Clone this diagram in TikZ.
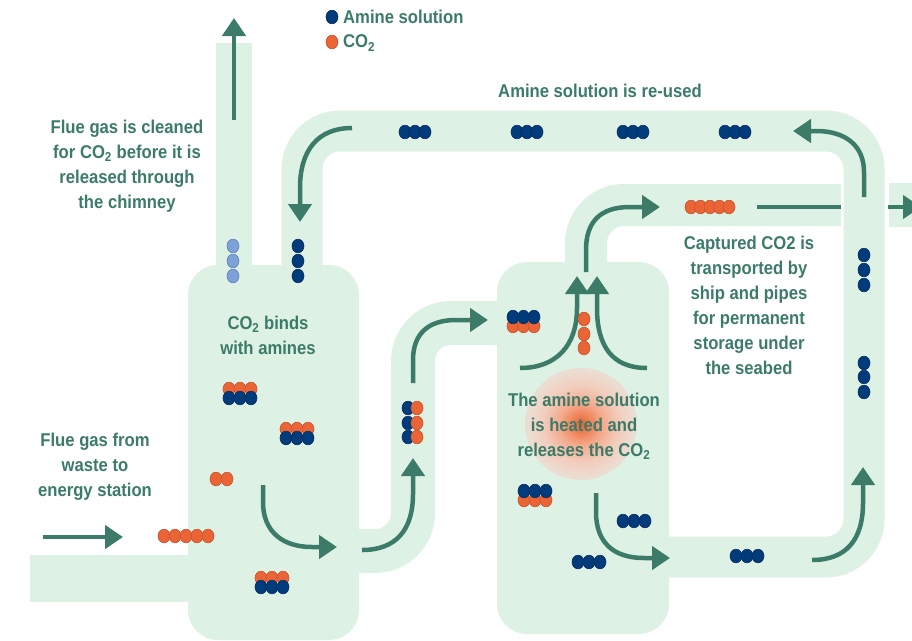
\documentclass[tikz,border=0pt]{standalone}
\usepackage{fontspec}
\setmainfont{Liberation Sans}[FakeStretch=0.9]
\usetikzlibrary{arrows.meta}
\definecolor{pipefill}{HTML}{DEF1E5}
\definecolor{grn}{HTML}{3B7B68}
\definecolor{amb}{HTML}{003B7C}
\definecolor{ambd}{HTML}{0A2D5E}
\definecolor{coo}{HTML}{EB6436}
\definecolor{cood}{HTML}{C5522B}
\definecolor{lbl}{HTML}{7EA1D8}
\definecolor{lbld}{HTML}{5B7FBA}
\definecolor{glowA}{HTML}{EE5F2E}
\definecolor{glowB}{HTML}{F07D52}
\definecolor{glowC}{HTML}{F3AA8C}
\definecolor{glowD}{HTML}{F2CDBD}
\definecolor{glowE}{HTML}{ECDDD3}
\pgfdeclareradialshading{heatglow}{\pgfpoint{0bp}{0bp}}{color(0bp)=(glowA); color(3.5bp)=(glowB); color(9.5bp)=(glowC); color(17bp)=(glowD); color(24bp)=(glowE); color(25bp)=(glowE); color(50bp)=(glowE)}
\tikzset{
  pipeline/.style={draw=pipefill, line cap=butt},
  amdot/.style={fill=amb, draw=ambd, line width=0.6pt},
  codot/.style={fill=coo, draw=cood, line width=0.6pt},
  lbdot/.style={fill=lbl, draw=lbld, line width=0.6pt},
  arr/.style={draw=grn, line width=4.5pt, -{Triangle[length=18pt,width=23pt]}},
  txt/.style={text=grn, font=\fontsize{18.5}{25}\selectfont\bfseries, align=center, inner sep=0pt},
}
\newcommand\amd[2]{\filldraw[amdot] (#1,#2) ellipse [x radius=6, y radius=6.8];}
\newcommand\cod[2]{\filldraw[codot] (#1,#2) ellipse [x radius=6, y radius=6.8];}
\newcommand\lbd[2]{\filldraw[lbdot] (#1,#2) ellipse [x radius=6, y radius=6.8];}
\begin{document}
\begin{tikzpicture}[x=1pt,y=-1pt]
\useasboundingbox (0,0) rectangle (912,640);
% ---------- pipes ----------
\draw[pipeline, line width=36pt] (234,43) -- (234,280);
\draw[pipeline, line width=47pt] (30,578.5) -- (200,578.5);
\draw[pipeline, line width=41pt, rounded corners=38pt] (302,280) -- (302,131) -- (864,131) -- (864,557) -- (650,557);
\draw[pipeline, line width=42pt, rounded corners=38pt] (586,280) -- (586,205) -- (841,205);
\draw[pipeline, line width=44pt] (889,205) -- (916,205);
\draw[pipeline, line width=44pt, rounded corners=38pt] (350,551) -- (413,551) -- (413,323) -- (505,323);
% ---------- columns ----------
\fill[pipefill, rounded corners=30pt] (188,265) rectangle (359,640);
\fill[pipefill, rounded corners=30pt] (497,262) rectangle (669,634);
% ---------- heat ----------
\shade[shading=heatglow] (581,424) circle [radius=56];
% ---------- arrows ----------
\coordinate (chimA) at (234,120);
\coordinate (chimB) at (234,18);
\draw[arr] (chimA) -- (chimB);
\draw[arr] (352,128) .. controls (318,128) and (300,150) .. (300,188) -- (300,222);
\draw[arr] (864,197) -- (864,172) .. controls (864,146) and (846,131) .. (816,131) -- (793,131);
\draw[arr] (586,272) -- (586,250) .. controls (586,222) and (600,207) .. (630,207) -- (660,207);
\draw[draw=grn, line width=4.5pt] (757,207) -- (841,207);
\draw[arr] (888,207) -- (921,207);
\draw[arr] (520,368) .. controls (556,368) and (577,346) .. (577,308) -- (577,276);
\draw[arr] (647,368) .. controls (612,368) and (597,346) .. (597,308) -- (597,276);
\draw[arr] (596,493) -- (596,512) .. controls (596,543) and (614,558) .. (644,558) -- (670,558);
\draw[arr] (812,560) .. controls (846,560) and (863,540) .. (863,503) -- (863,467);
\draw[arr] (362,550) .. controls (396,550) and (413,530) .. (413,494) -- (413,458);
\draw[arr] (413,383) -- (413,360) .. controls (413,334) and (428,320) .. (456,320) -- (488,320);
\draw[arr] (263,485) -- (263,502) .. controls (263,532) and (283,547) .. (312,547) -- (337,547);
\draw[arr] (43,537) -- (123,537);
% ---------- dots ----------
% legend
\amd{332}{17}
\cod{332}{42}
% chimney / return
\lbd{233}{246}\lbd{233}{261}\lbd{233}{276}
\amd{298}{246}\amd{298}{261}\amd{298}{276}
% top pipe
\foreach \c in {415,527,633,735}{\amd{\c-10}{132}\amd{\c}{132}\amd{\c+10}{132}}
% right pipe
\amd{864}{255}\amd{864}{270}\amd{864}{285}
\amd{864}{363}\amd{864}{377}\amd{864}{392}
% co2 pipe
\foreach \c in {691,700.5,710,719.5,729}{\cod{\c}{207}}
% absorber
\foreach \c in {164,175,186,197,208}{\cod{\c}{536}}
\cod{216}{479}\cod{227}{479}
\foreach \c in {229,240,251}{\cod{\c}{389}}
\foreach \c in {229,240,251}{\amd{\c}{398}}
\foreach \c in {286,297,308}{\cod{\c}{429}}
\foreach \c in {286,297,308}{\amd{\c}{438}}
\foreach \c in {261,272,283}{\cod{\c}{578}}
\foreach \c in {261,272,283}{\amd{\c}{587}}
% connecting pipe
\foreach \r in {408,423,437}{\amd{408}{\r}}
\foreach \r in {408,423,437}{\cod{417}{\r}}
% stripper
\foreach \c in {513,523.5,534}{\cod{\c}{326}}
\foreach \c in {513,523.5,534}{\amd{\c}{317}}
\cod{584}{319}\cod{584}{334}\cod{584}{348}
\foreach \c in {524,535,546}{\cod{\c}{500}}
\foreach \c in {524,535,546}{\amd{\c}{491}}
\foreach \c in {623,634,645}{\amd{\c}{521}}
\foreach \c in {578,589,600}{\amd{\c}{562}}
\foreach \c in {736,747,758}{\amd{\c}{556}}
% ---------- texts ----------
\node[txt, anchor=west] (legA) at (343,17) {Amine solution};
\node[txt, anchor=west] (legB) at (343,43) {CO\textsubscript{2}};
\node[txt] (chimtxt) at (127,166) {Flue gas is cleaned\\for CO\textsubscript{2} before it is\\released through\\the chimney};
\node[txt] (reuse) at (600,91) {Amine solution is re-used};
\node[txt] (binds) at (268,335) {CO\textsubscript{2} binds\\with amines};
\node[txt] (heated) at (584,426) {The amine solution\\is heated and\\releases the CO\textsubscript{2}};
\node[txt] (capt) at (749,305) {Captured CO2 is\\transported by\\ship and pipes\\for permanent\\storage under\\the seabed};
\node[txt] (flue) at (95,467) {Flue gas from\\waste to\\energy station};
\end{tikzpicture}
\end{document}
